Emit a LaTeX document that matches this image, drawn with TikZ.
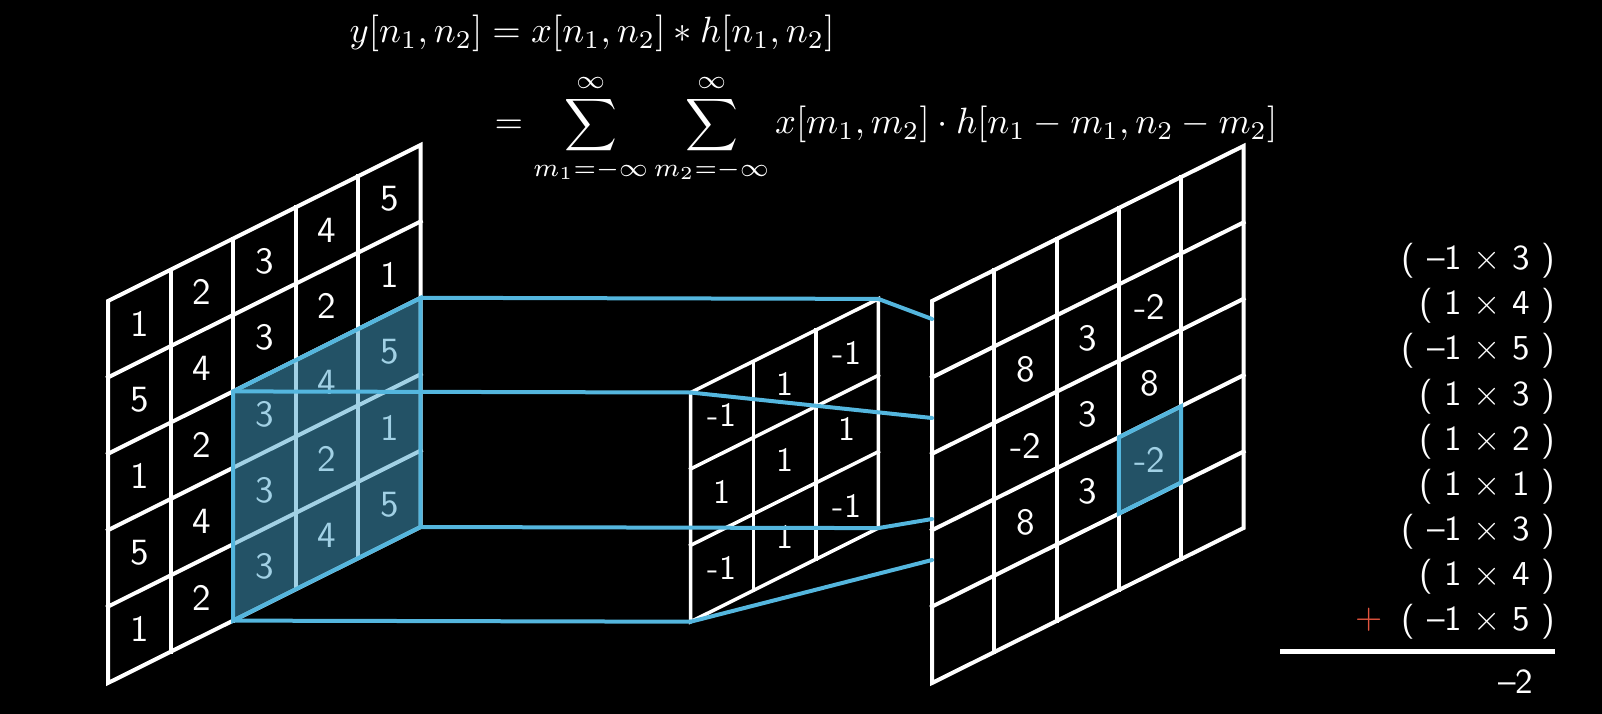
\documentclass[tikz,border=0pt]{standalone}
\usepackage{amsmath}
\definecolor{hlfill}{RGB}{70,165,205}
\definecolor{hlline}{RGB}{84,182,222}
\definecolor{plusred}{RGB}{226,84,62}
\tikzset{
  gridln/.style={white, line width=4pt, line cap=rect},
  kgridln/.style={white, line width=3.5pt, line cap=rect},
  hlarea/.style={fill=hlfill, fill opacity=0.5},
  hledge/.style={draw=hlline, line width=4pt, line join=miter},
  conn/.style={hlline, line width=4pt, line cap=round},
  cellnum/.style={text=white, font=\sffamily, scale=3.7, inner sep=0pt},
  knum/.style={text=white, font=\sffamily, scale=3.4, inner sep=0pt},
  prodln/.style={text=white, font=\sffamily, scale=3.5, inner sep=0pt, anchor=base east},
  eqn/.style={text=white, scale=3.66, inner sep=0pt, anchor=base west},
}
\begin{document}
\begin{tikzpicture}[x=1pt,y=-1pt]
\fill[black] (0,0) rectangle (1602,714);
\useasboundingbox (0,0) rectangle (1602,714);

% formula
\node[eqn] (eq1) at (349,43) {$y[n_1,n_2] = x[n_1,n_2] * h[n_1,n_2]$};
\node[eqn] (eq2) at (494,134) {$\displaystyle = \sum_{m_1=-\infty}^{\infty}\sum_{m_2=-\infty}^{\infty} x[m_1,m_2]\cdot h[n_1-m_1,n_2-m_2]$};

% input grid
\begin{scope}[shift={(108,683)}, x={(62.54pt,31.2pt)}, y={(0pt,76.4pt)}]
  \foreach \r in {0,2,4} \foreach \c in {0,...,4} {
    \pgfmathtruncatemacro\v{\c+1}
    \node[cellnum] (x-\r-\c) at (\c+0.5,\r+0.5) {\v};}
  \foreach \r in {1,3} \foreach \c in {0,...,4} {
    \pgfmathtruncatemacro\v{5-\c}
    \node[cellnum] (x-\r-\c) at (\c+0.5,\r+0.5) {\v};}
  \foreach \i in {1,...,4} {
    \draw[gridln] (\i,0) -- (\i,5);
    \draw[gridln] (0,\i) -- (5,\i);}
  \draw[gridln, line join=miter] (0,0) -- (5,0) -- (5,5) -- (0,5) -- cycle;
  \coordinate (hBL) at (2,0);
  \coordinate (hBR) at (5,0);
  \coordinate (hTR) at (5,3);
  \coordinate (hTL) at (2,3);
  \fill[hlarea] (hBL) -- (hBR) -- (hTR) -- (hTL) -- cycle;
  \draw[hledge] (hBL) -- (hBR) -- (hTR) -- (hTL) -- cycle;
\end{scope}

% kernel
\begin{scope}[shift={(690.7,621.7)}, x={(62.54pt,31.2pt)}, y={(0pt,76.4pt)}]
  \foreach \c/\r/\v in {0/0/-1,1/0/1,2/0/-1,0/1/1,1/1/1,2/1/1,0/2/-1,1/2/1,2/2/-1}
    \node[knum] (k-\r-\c) at (\c+0.5,\r+0.5) {\v};
  \foreach \i in {1,2} {
    \draw[kgridln] (\i,0) -- (\i,3);
    \draw[kgridln] (0,\i) -- (3,\i);}
  \draw[kgridln, line join=miter] (0,0) -- (3,0) -- (3,3) -- (0,3) -- cycle;
  \coordinate (kBL) at (0,0);
  \coordinate (kBR) at (3,0);
  \coordinate (kTR) at (3,3);
  \coordinate (kTL) at (0,3);
\end{scope}

% output grid
\begin{scope}[shift={(932,683)}, x={(62.3pt,31pt)}, y={(0pt,76.4pt)}]
  \foreach \c/\r/\v in {1/3/8,2/3/3,3/3/-2,1/2/-2,2/2/3,3/2/8,1/1/8,2/1/3,3/1/-2}
    \node[cellnum] (y-\r-\c) at (\c+0.5,\r+0.5) {\v};
  \foreach \i in {1,...,4} {
    \draw[gridln] (\i,0) -- (\i,5);
    \draw[gridln] (0,\i) -- (5,\i);}
  \draw[gridln, line join=miter] (0,0) -- (5,0) -- (5,5) -- (0,5) -- cycle;
  \coordinate (oBL) at (3,1);
  \coordinate (oBR) at (4,1);
  \coordinate (oTR) at (4,2);
  \coordinate (oTL) at (3,2);
  \fill[hlarea] (oBL) -- (oBR) -- (oTR) -- (oTL) -- cycle;
  \draw[hledge] (oBL) -- (oBR) -- (oTR) -- (oTL) -- cycle;
\end{scope}

% connectors
\coordinate (rA) at (932,319);
\coordinate (rB) at (932,418);
\coordinate (rC) at (932,519);
\coordinate (rD) at (932,560);
\draw[conn] (hTR) -- (kTR);
\draw[conn] (hTL) -- (kTL);
\draw[conn] (hBR) -- (kBR);
\draw[conn] (hBL) -- (kBL);
\draw[conn] (kTR) -- (rA);
\draw[conn] (kTL) -- (rB);
\draw[conn] (kBR) -- (rC);
\draw[conn] (kBL) -- (rD);

% products
\node[prodln] (p1) at (1556,269.7) {( --1 × 3 )};
\node[prodln] (p2) at (1556,314.8) {( 1 × 4 )};
\node[prodln] (p3) at (1556,359.9) {( --1 × 5 )};
\node[prodln] (p4) at (1556,405.0) {( 1 × 3 )};
\node[prodln] (p5) at (1556,450.1) {( 1 × 2 )};
\node[prodln] (p6) at (1556,495.2) {( 1 × 1 )};
\node[prodln] (p7) at (1556,540.3) {( --1 × 3 )};
\node[prodln] (p8) at (1556,585.4) {( 1 × 4 )};
\node[prodln] (p9) at (1556,630.5) {( --1 × 5 )};
\node[text=plusred, font=\sffamily, scale=3.5, inner sep=0pt] (plus) at (1369,620) {+};
\coordinate (ruleL) at (1280,651);
\coordinate (ruleR) at (1555,651);
\draw[white, line width=5pt] (ruleL) -- (ruleR);
\node[prodln] (res) at (1534,693.4) {--2};
\end{tikzpicture}
\end{document}
